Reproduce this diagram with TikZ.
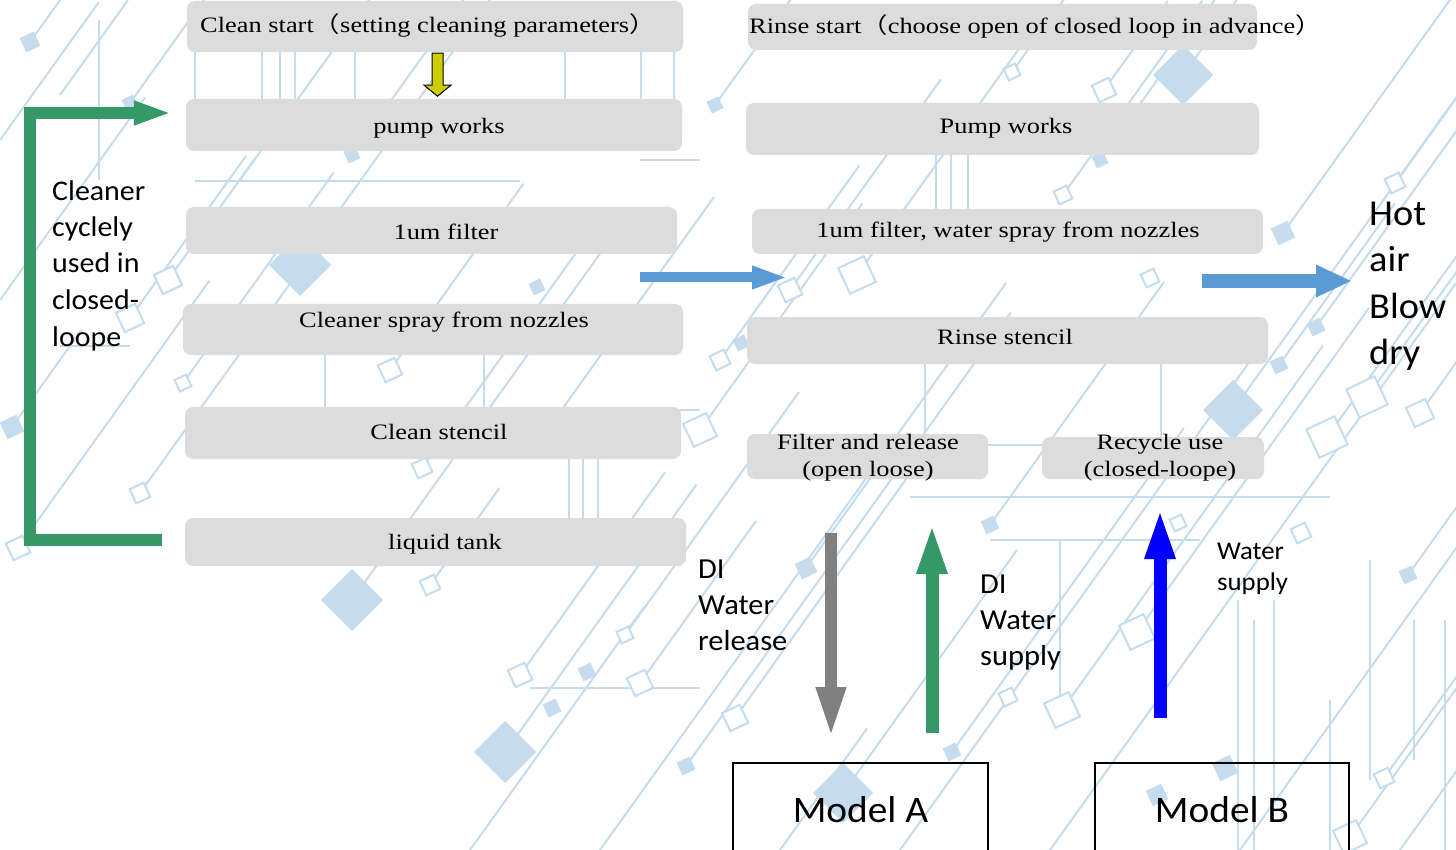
\documentclass[tikz,border=0pt]{standalone}
\usepackage{fontspec}
\usetikzlibrary{arrows.meta,calc}
\newfontfamily\serifbox[FakeStretch=1.2]{Liberation Serif}
\newfontfamily\cjkp[FakeStretch=1.2]{Noto Sans CJK SC}
\newfontfamily\calib[FakeStretch=1.05]{Carlito}
\definecolor{bgc}{RGB}{197,220,238}
\definecolor{boxgray}{RGB}{220,220,220}
\definecolor{greenc}{RGB}{52,153,102}
\definecolor{bluec}{RGB}{91,155,213}
\definecolor{grayc}{RGB}{128,128,128}
\definecolor{yelc}{RGB}{204,204,0}
\begin{document}
\begin{tikzpicture}[x=1pt,y=-1pt,
  bgl/.style={draw=bgc,line width=2pt},
  bgh/.style={draw=bgc,line width=2pt,fill=white},
  bgf/.style={fill=bgc},
  box/.style={fill=boxgray,rounded corners=8pt,draw=none,inner sep=0pt},
  btxt/.style={font=\serifbox\fontsize{22}{27}\selectfont,align=center,inner sep=0pt,text=black},
  lbl/.style={font=\calib\fontsize{28.5}{36.5}\selectfont,align=left,inner sep=0pt,anchor=base west},
  modelbox/.style={draw=black,line width=1.5pt,inner sep=0pt},
  mtxt/.style={font=\calib\fontsize{37.5}{45}\selectfont,inner sep=0pt,anchor=base}
]
\useasboundingbox (0,0) rectangle (1456,850);
\fill[white] (0,0) rectangle (1456,850);

% ---------- background circuit pattern ----------
\foreach \x/\y/\l in {18/548/330, 140/493/300, 183/383/260, 130/318/200, 168/280/150,
  0/300/250, 12/427/120, 30/42/55, 130/103/130, 0/140/170, 300/265/330, 352/155/195,
  390/370/230, 422/468/300, 352/600/460, 430/585/120, 505/752/330, 520/675/250,
  640/683/200, 625/635/300, 686/766/560, 735/718/350, 600/850/700, 470/850/300,
  715/105/140, 790/290/260, 857/275/280, 720/360/240, 700/430/280, 1012/72/90,
  1104/90/110, 1063/195/240, 1100/160/200, 1183/75/95, 1283/233/290, 1316/327/400,
  1279/365/200, 1233/410/520, 1395/183/230, 1367/397/300, 1420/413/200, 1327/437/260,
  990/525/300, 1137/632/400, 1062/710/450, 952/752/400, 1408/575/240, 1350/837/300,
  843/793/300, 1240/850/500, 900/850/600, 1050/850/700, 1400/850/350, 1384/778/250,
  806/568/160, 780/850/150, 540/440/300, 240/180/225, 60/95/117}
  \draw[bgl] (\x,\y) -- ++({0.58*\l},{-0.81*\l});
\foreach \x/\ya/\yb in {99/20/180, 195/52/100, 262/52/100, 280/52/100, 295/52/100,
  355/52/100, 565/52/100, 641/52/100, 674/52/100, 325/355/407, 484/355/407,
  569/459/520, 583/459/520, 598/459/520, 936/155/210, 951/155/210, 968/155/210,
  925/364/434, 1161/364/437, 1238/600/850, 1254/620/850, 1274/600/800, 1330/700/850,
  1370/560/780, 1414/620/760, 1445/620/850, 1060/540/700}
  \draw[bgl] (\x,\ya) -- (\x,\yb);
\foreach \y/\xa/\xb in {181/195/520, 445/988/1042, 497/910/1330, 540/990/1200,
  688/530/700, 410/560/700, 346/60/130, 160/640/700}
  \draw[bgl] (\xa,\y) -- (\xb,\y);
\foreach \x/\y/\r in {168/280/15, 130/318/15, 183/383/9, 390/370/13, 422/468/11,
  140/493/11, 18/548/13, 430/585/11, 520/675/13, 640/683/14, 625/635/9, 735/718/14,
  790/290/13, 857/275/20, 720/360/11, 700/430/18, 1012/72/9, 1104/90/13, 1063/195/10,
  1395/183/11, 1150/278/10, 1367/397/22, 1420/413/15, 1327/437/22, 1137/632/19,
  1062/710/19, 1008/697/10, 1350/837/18, 1384/778/11, 1301/533/11, 1178/523/9}
  \path[bgh] ({\x+0.34*\r},{\y-0.94*\r}) -- ({\x+0.94*\r},{\y+0.34*\r})
    -- ({\x-0.34*\r},{\y+0.94*\r}) -- ({\x-0.94*\r},{\y-0.34*\r}) -- cycle;
\foreach \x/\y/\r in {30/42/11, 130/103/9, 352/155/9, 715/105/9, 1100/160/9, 1283/233/13,
  537/287/9, 1316/327/10, 1279/365/10, 12/427/13, 806/568/12, 990/525/10, 952/752/10,
  686/766/10, 552/708/10, 587/672/10, 1408/575/10, 1157/795/12, 741/343/9, 1225/768/14}
  \path[bgf] ({\x+0.34*\r},{\y-0.94*\r}) -- ({\x+0.94*\r},{\y+0.34*\r})
    -- ({\x-0.34*\r},{\y+0.94*\r}) -- ({\x-0.94*\r},{\y-0.34*\r}) -- cycle;
\foreach \x/\y/\r in {1183/75/30, 300/265/31, 352/600/31, 505/752/31, 1233/410/30, 843/793/30}
  \path[bgf] ({\x-\r},\y) -- (\x,{\y-\r}) -- ({\x+\r},\y) -- (\x,{\y+\r}) -- cycle;

% ---------- boxes: left column ----------
\node[box,minimum width=496pt,minimum height=51pt] (L1) at (435,26.5) {};
\node[box,minimum width=496pt,minimum height=52pt] (L2) at (434,125) {};
\node[box,minimum width=491pt,minimum height=47pt] (L3) at (431.5,230.5) {};
\node[box,minimum width=500pt,minimum height=51pt] (L4) at (433,329.5) {};
\node[box,minimum width=496pt,minimum height=52pt] (L5) at (433,433) {};
\node[box,minimum width=501pt,minimum height=48pt] (L6) at (435.5,542) {};
% ---------- boxes: right column ----------
\node[box,minimum width=509pt,minimum height=46pt] (R1) at (1002.5,27) {};
\node[box,minimum width=513pt,minimum height=52pt] (R2) at (1002.5,129) {};
\node[box,minimum width=511pt,minimum height=45pt] (R3) at (1007.5,231.5) {};
\node[box,minimum width=521pt,minimum height=47pt] (R4) at (1007.5,340.5) {};
\node[box,minimum width=241pt,minimum height=45pt] (R5) at (867.5,456.5) {};
\node[box,minimum width=222pt,minimum height=42pt] (R6) at (1153,458) {};
% ---------- model boxes ----------
\node[modelbox,minimum width=255pt,minimum height=120pt] (MA) at (860.5,823) {};
\node[modelbox,minimum width=254pt,minimum height=120pt] (MB) at (1222,823) {};

% ---------- box texts ----------
\node[btxt,anchor=base west] (tL1) at (200,33) {Clean start{\cjkp（}setting cleaning parameters{\cjkp）}};
\node[btxt] (tL2) at (439,128) {pump works};
\node[btxt] (tL3) at (446,231.5) {1um filter};
\node[btxt] (tL4) at (444,322.5) {Cleaner spray from nozzles};
\node[btxt] (tL5) at (439,431.7) {Clean stencil};
\node[btxt] (tL6) at (445,544) {liquid tank};
\node[btxt,anchor=base west] (tR1) at (749,33.5) {Rinse start{\cjkp（}choose open of closed loop in advance{\cjkp）}};
\node[btxt] (tR2) at (1006,128) {Pump works};
\node[btxt] (tR3) at (1008,232.5) {1um filter, water spray from nozzles};
\node[btxt] (tR4) at (1005,337) {Rinse stencil};
\node[btxt] (tR5) at (868,457.5) {Filter and release\\(open loose)};
\node[btxt] (tR6) at (1160,458) {Recycle use\\(closed-loope)};
\node[mtxt] (tMA) at (860.5,822) {Model A};
\node[mtxt] (tMB) at (1222,822) {Model B};

% ---------- side labels (anchored at the last line's baseline) ----------
\node[lbl] (cyc) at (52,346) {Cleaner\\cyclely\\used in\\closed-\\loope};
\node[lbl,font=\calib\fontsize{36.5}{46.5}\selectfont] (hot) at (1369,364.5) {Hot\\air\\Blow\\dry};
\node[lbl,font=\calib\fontsize{29}{36}\selectfont] (direl) at (698,650) {DI\\Water\\release};
\node[lbl,font=\calib\fontsize{29}{36}\selectfont] (disup) at (980,665) {DI\\Water\\supply};
\node[lbl,font=\calib\fontsize{25.5}{31}\selectfont] (wsup) at (1217,590) {Water\\supply};

% ---------- arrows ----------
\path (437.5,0) coordinate (yx);
\filldraw[fill=yelc,draw=black,line width=1pt,line join=miter]
  (yx |- L1.south) ++(-5.5,1) -- ++(11,0) -- ++(0,32) -- ++(8,0) -- ++(-13.5,11)
  -- ++(-13.5,-11) -- ++(8,0) -- cycle;

\coordinate (gl1) at (30,540);
\coordinate (gl2) at (30,113);
\draw[line width=12pt,greenc,-{Triangle[length=38pt,width=22pt]}]
  ($(L6.west)+(-23,-2)$) -- (gl1) -- (gl2) -- ($(L2.west)+(-14,-12)$);

\coordinate (m1) at (640,277.5);
\coordinate (m2) at (788,277.5);
\draw[line width=10pt,bluec,-{Triangle[length=36pt,width=21pt]}] (m1) -- (m2);

\coordinate (h1) at (1202,281);
\coordinate (h2) at (1352,281);
\draw[line width=14pt,bluec,-{Triangle[length=36pt,width=30pt]}] (h1) -- (h2);

\coordinate (g1) at (831,533);
\coordinate (g2) at (831,738);
\draw[line width=12pt,grayc,-{Triangle[length=51pt,width=27pt]}] (g1) -- (g2);

\coordinate (s1) at (932,733);
\coordinate (s2) at (932,522);
\draw[line width=13pt,greenc,-{Triangle[length=52pt,width=27pt]}] (s1) -- (s2);

\coordinate (b1) at (1160,718);
\coordinate (b2) at (1160,507);
\draw[line width=13pt,blue,-{Triangle[length=52pt,width=27pt]}] (b1) -- (b2);
\end{tikzpicture}
\end{document}
